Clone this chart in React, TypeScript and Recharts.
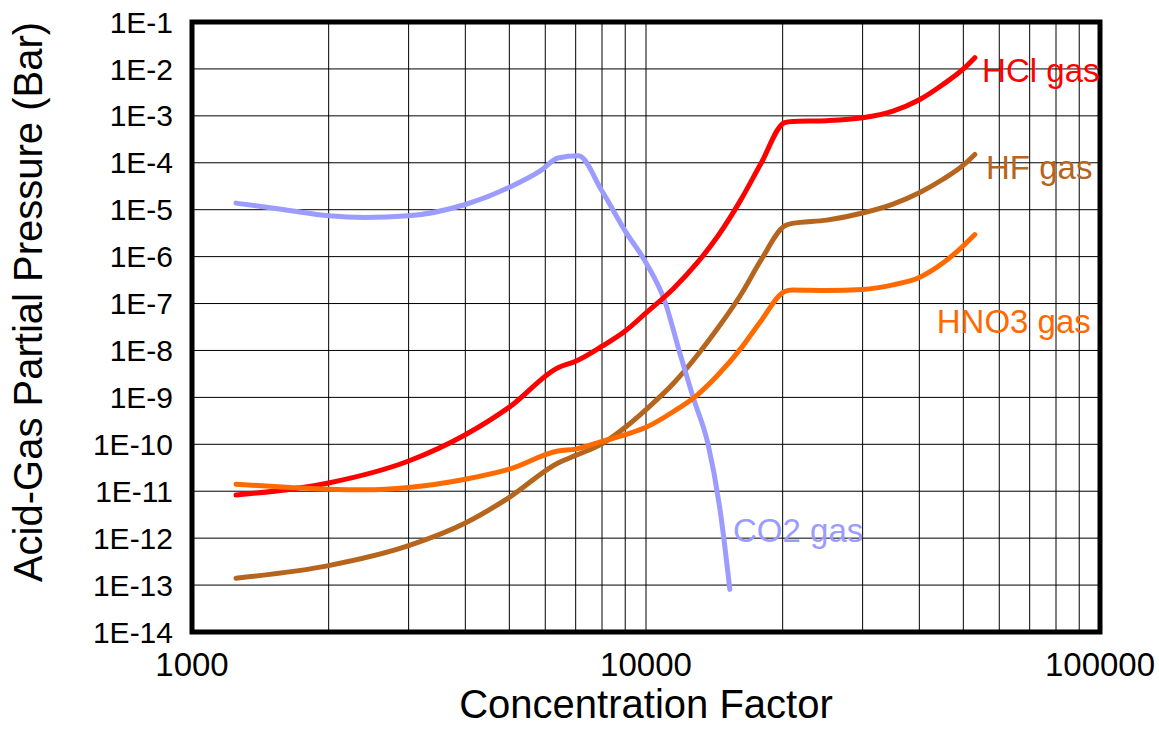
import {
  CartesianGrid,
  Label,
  Line,
  LineChart,
  ReferenceArea,
  ReferenceDot,
  XAxis,
  YAxis,
} from 'recharts'

const FONT = '"Liberation Sans", Arial, Helvetica, sans-serif'

// concentration factor / partial pressure pairs, one list per gas
const hclX = [1250, 2000, 3000, 4000, 5000, 6400, 7000, 8000, 9000, 10000, 11500, 13000, 14400, 16200, 17900, 20200, 21000, 25000, 30000, 35000, 40000, 45000, 50000, 53000]
const hclY = [8.3e-12, 1.5e-11, 4.4e-11, 1.6e-10, 6.2e-10, 4.3e-9, 5.9e-9, 1.23e-8, 2.6e-8, 6.3e-8, 2.1e-7, 7.6e-7, 2.75e-6, 1.66e-5, 9.5e-5, 7.2e-4, 7.6e-4, 7.9e-4, 9.1e-4, 1.26e-3, 2.2e-3, 4.6e-3, 1.0e-2, 1.74e-2]

const hfX = [1250, 2000, 3000, 4000, 5000, 6400, 7000, 8000, 9000, 10000, 11500, 13000, 14400, 16200, 17900, 20200, 21000, 25000, 30000, 35000, 40000, 45000, 50000, 53000]
const hfY = [1.4e-13, 2.6e-13, 6.9e-13, 2.1e-12, 7.4e-12, 4.0e-11, 5.8e-11, 1.02e-10, 2.3e-10, 5.5e-10, 2.0e-9, 8.1e-9, 3.0e-8, 1.58e-7, 8.3e-7, 4.5e-6, 5.1e-6, 6.0e-6, 8.5e-6, 1.32e-5, 2.3e-5, 4.4e-5, 8.9e-5, 1.5e-4]

const hno3X = [1250, 1650, 2000, 2400, 3000, 4000, 5000, 6400, 7000, 8000, 9000, 10000, 11500, 13000, 14400, 16200, 17900, 20200, 21000, 25000, 30000, 35000, 40000, 45000, 50000, 53000]
const hno3Y = [1.41e-11, 1.2e-11, 1.1e-11, 1.07e-11, 1.2e-11, 1.8e-11, 2.95e-11, 7.2e-11, 7.9e-11, 1.15e-10, 1.6e-10, 2.3e-10, 5.0e-10, 1.15e-9, 3.0e-9, 1.12e-8, 4.2e-8, 1.8e-7, 1.95e-7, 1.9e-7, 2.0e-7, 2.5e-7, 3.6e-7, 7.2e-7, 1.7e-6, 2.95e-6]

const co2X = [1250, 1600, 2000, 2400, 3000, 4000, 5000, 5860, 6400, 7100, 8000, 9000, 10000, 11000, 11900, 12700, 13700, 14500, 14840, 15300]
const co2Y = [1.38e-5, 1.0e-5, 7.4e-6, 6.8e-6, 7.4e-6, 1.29e-5, 3.0e-5, 6.8e-5, 1.26e-4, 1.41e-4, 2.5e-5, 3.5e-6, 7.4e-7, 1.12e-7, 8.1e-9, 1e-9, 1e-10, 5.2e-12, 1e-12, 8.1e-14]

const xTicks = [
  1000, 2000, 3000, 4000, 5000, 6000, 7000, 8000, 9000,
  10000, 20000, 30000, 40000, 50000, 60000, 70000, 80000, 90000, 100000,
]
const xLabelled = [1000, 10000, 100000]
const yTicks = [1e-14, 1e-13, 1e-12, 1e-11, 1e-10, 1e-9, 1e-8, 1e-7, 1e-6, 1e-5, 1e-4, 1e-3, 1e-2, 1e-1]

const toPoints = (xs: number[], ys: number[]) => xs.map((x, i) => ({ x, y: ys[i] }))

const series = [
  { name: 'HF gas', color: '#b5651d', points: toPoints(hfX, hfY), labelAt: { x: 56100, y: 8.0e-5 } },
  { name: 'CO2 gas', color: '#9c9cff', points: toPoints(co2X, co2Y), labelAt: { x: 15550, y: 1.5e-12 } },
  { name: 'HCl gas', color: '#ff0000', points: toPoints(hclX, hclY), labelAt: { x: 55000, y: 9.3e-3 } },
  { name: 'HNO3 gas', color: '#ff6a00', points: toPoints(hno3X, hno3Y), labelAt: { x: 43700, y: 4.1e-8 } },
]

const YTitle = () => (
  <text
    transform="translate(42,302) rotate(-90)"
    textAnchor="middle"
    fontSize={40}
    fontFamily={FONT}
    fill="#000"
  >
    Acid-Gas Partial Pressure (Bar)
  </text>
)

export default function App() {
  return (
    <div style={{ position: 'absolute', left: 0, top: 0, fontFamily: FONT }}>
      <LineChart width={1159} height={729} margin={{ top: 22, right: 59, bottom: 0, left: 0 }}>
        <CartesianGrid stroke="#000" strokeWidth={1} />
        <XAxis
          type="number"
          dataKey="x"
          scale="log"
          domain={[1000, 100000]}
          allowDataOverflow
          ticks={xTicks}
          interval={0}
          tickFormatter={(v: number) => (xLabelled.includes(v) ? String(v) : '')}
          tickLine={false}
          axisLine={false}
          tickMargin={15}
          height={97}
          tick={{ fill: '#000', fontSize: 33, fontFamily: FONT }}
        >
          <Label
            value="Concentration Factor"
            position="insideBottom"
            offset={11}
            fontSize={40}
            fill="#000"
            fontFamily={FONT}
          />
        </XAxis>
        <YAxis
          type="number"
          scale="log"
          domain={[1e-14, 1e-1]}
          allowDataOverflow
          ticks={yTicks}
          interval={0}
          tickFormatter={(v: number) => `1E${Math.round(Math.log10(v))}`}
          tickLine={false}
          axisLine={false}
          tickMargin={13}
          width={192}
          tick={{ fill: '#000', fontSize: 30, fontFamily: FONT }}
        >
          <Label content={<YTitle />} />
        </YAxis>
        <ReferenceArea
          x1={1000}
          x2={100000}
          y1={1e-14}
          y2={1e-1}
          fill="none"
          stroke="#000"
          strokeWidth={5}
          ifOverflow="visible"
        />
        {series.map((s) => (
          <Line
            key={s.name}
            data={s.points}
            dataKey="y"
            type="monotone"
            stroke={s.color}
            strokeWidth={5}
            strokeLinecap="round"
            dot={false}
            isAnimationActive={false}
          />
        ))}
        {series.map((s) => (
          <ReferenceDot
            key={`${s.name}-label`}
            x={s.labelAt.x}
            y={s.labelAt.y}
            r={0}
            fill="none"
            stroke="none"
            label={{
              value: s.name,
              position: 'right',
              offset: 0,
              fill: s.color,
              fontSize: 33,
              fontFamily: FONT,
            }}
          />
        ))}
      </LineChart>
    </div>
  )
}
